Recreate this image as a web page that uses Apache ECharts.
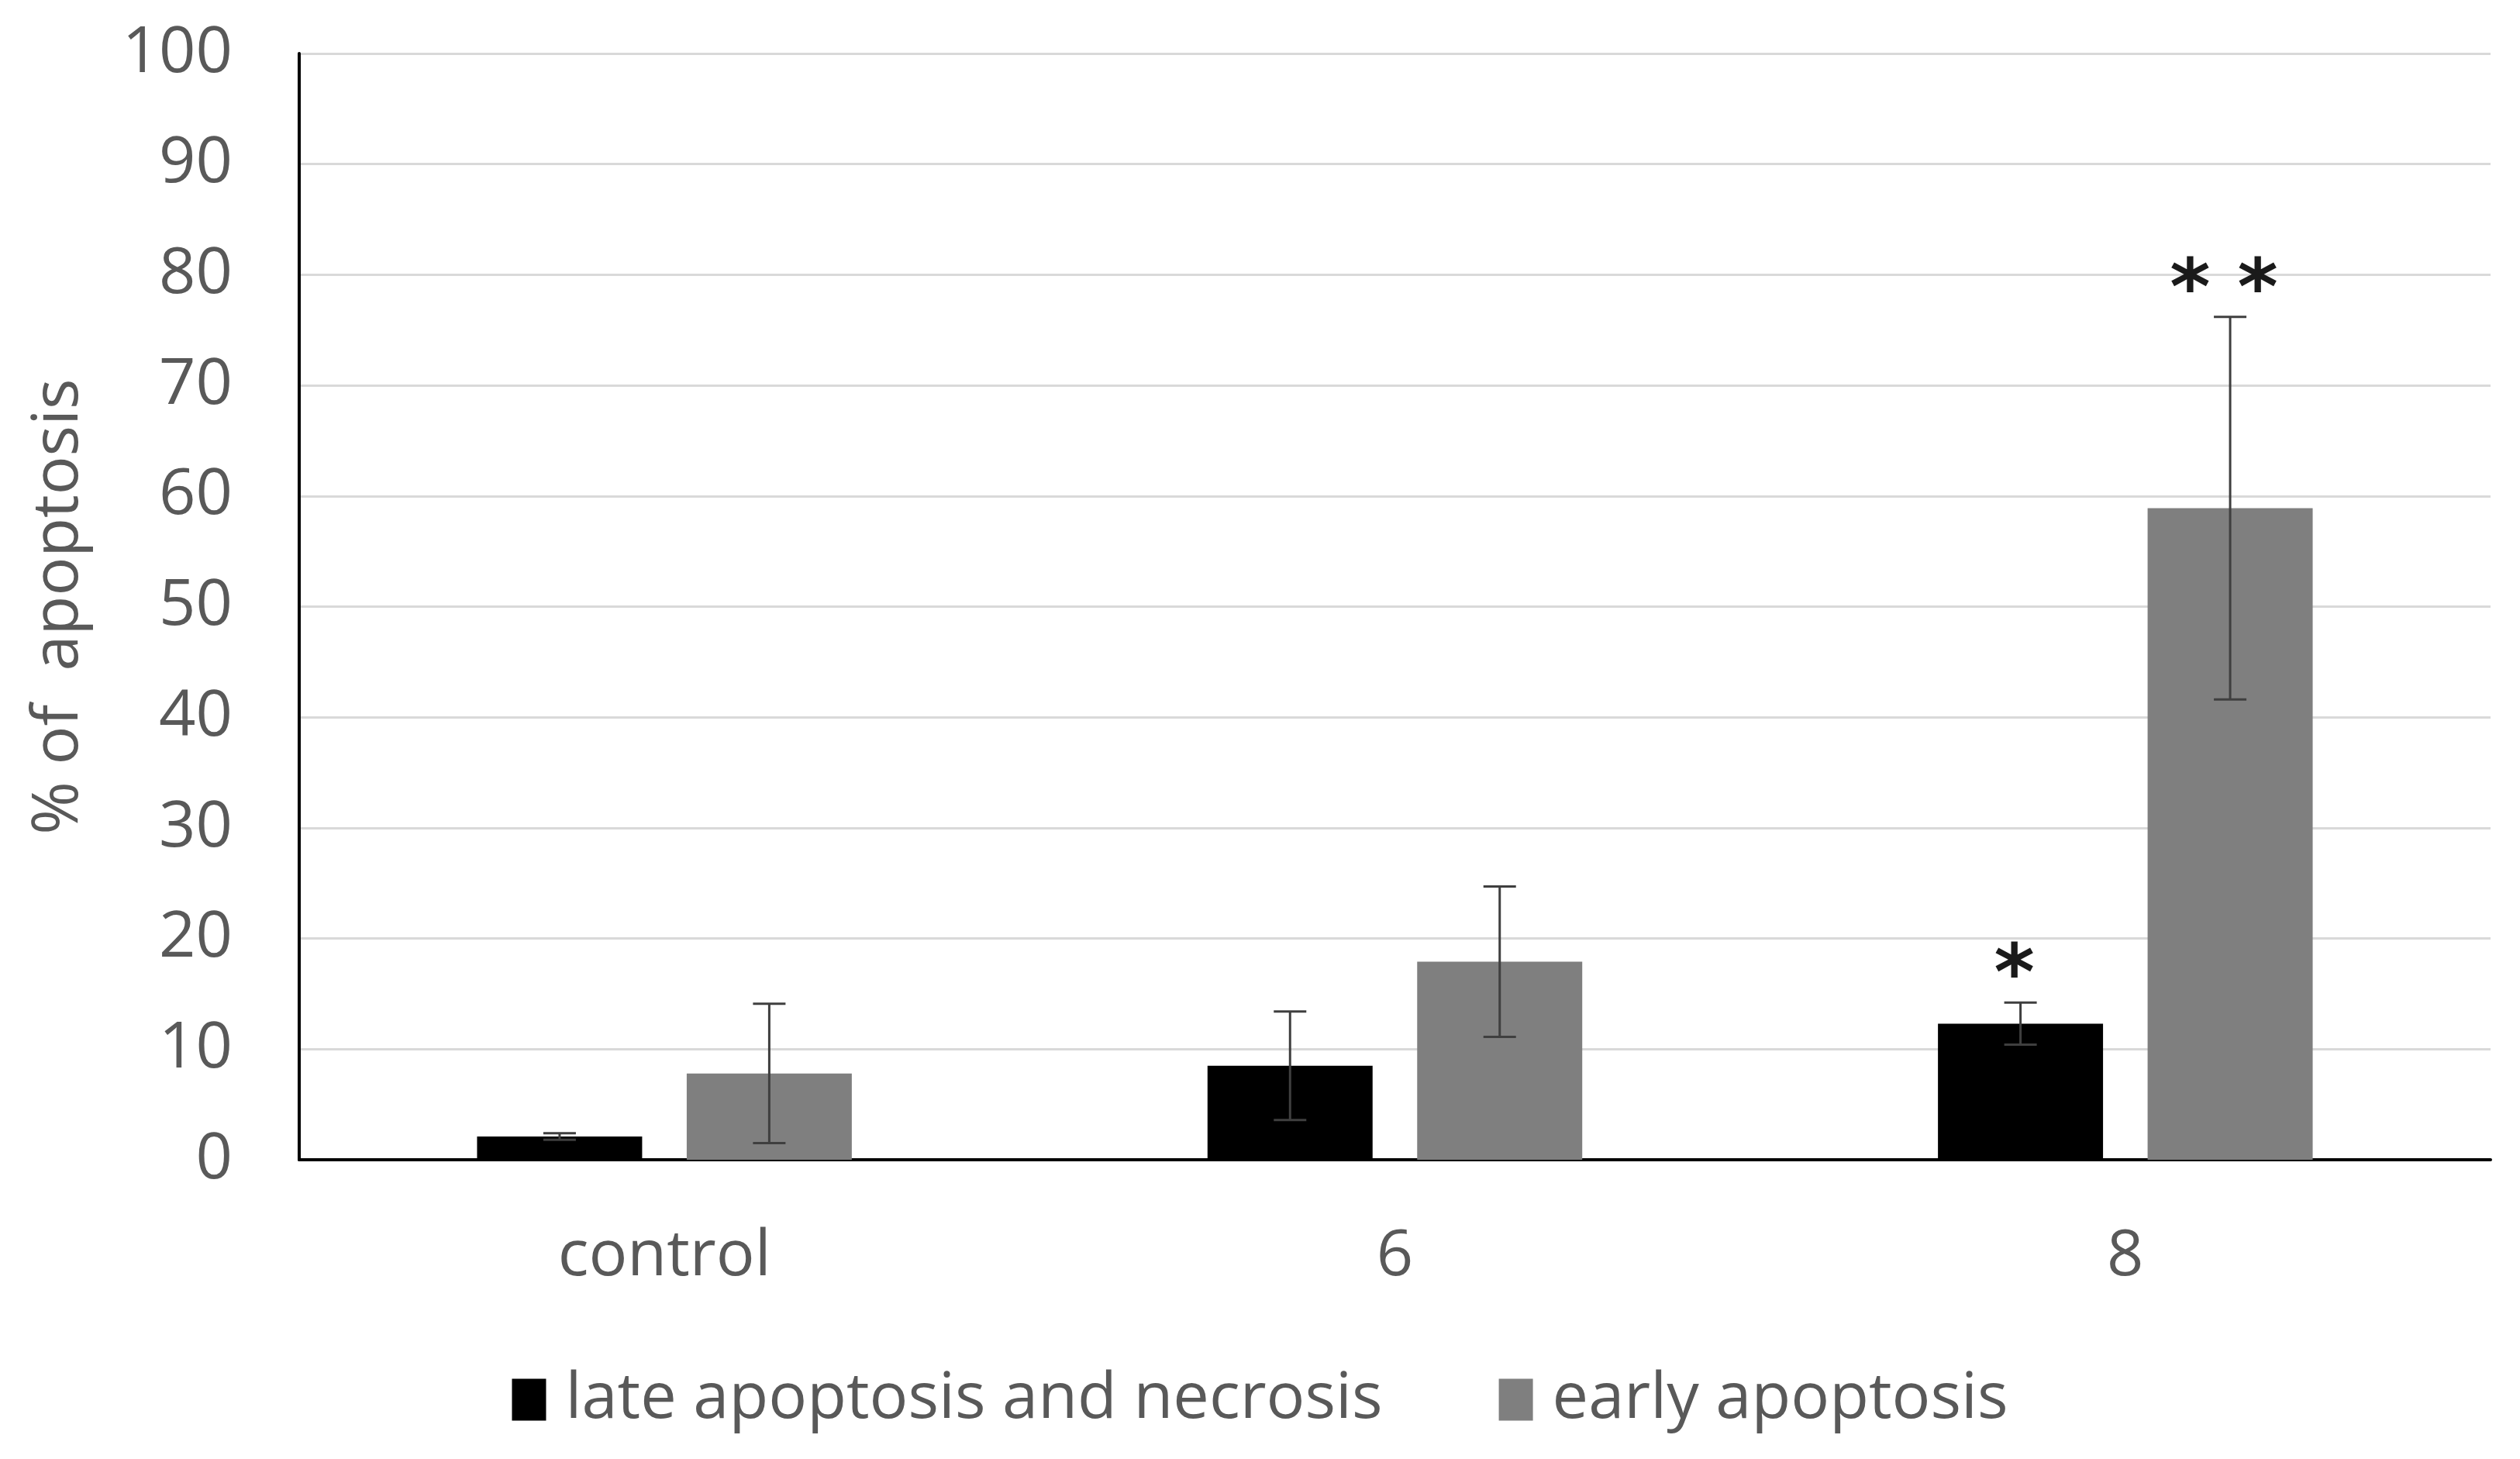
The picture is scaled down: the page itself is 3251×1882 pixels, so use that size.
<!DOCTYPE html>
<html>
<head>
<meta charset="utf-8">
<script src="https://cdn.jsdelivr.net/npm/echarts@6/dist/echarts.min.js"></script>
<style>
html,body{margin:0;padding:0;background:#fff;}
#chart{width:3251px;height:1882px;}
</style>
</head>
<body>
<div id="chart"></div>
<script>
var categories = ['control', '6', '8'];
var seriesNames = ['late apoptosis and necrosis', 'early apoptosis'];
var lateValues = [2.1, 8.5, 12.3];
var lateErrors = [0.3, 4.9, 1.9];
var earlyValues = [7.8, 17.9, 58.9];
var earlyErrors = [6.3, 6.8, 17.3];
var lateMarks = ['', '', '*'];
var earlyMarks = ['', '', '* *'];
var yTicks = [0, 10, 20, 30, 40, 50, 60, 70, 80, 90, 100];

var FONT = 'Open Sans';
var TXT = '#595959';
var FS = 83;
var BAR_W = 0.226;
var BAR_GAP = 0.27;

function offsetFor(idx, band) {
  var bw = band * BAR_W;
  var gap = bw * BAR_GAP;
  var total = 2 * bw + gap;
  return -total / 2 + bw / 2 + idx * (bw + gap);
}

function errSeries(idx, values, errors) {
  var data = values.map(function (v, i) { return [i, v, errors[i]]; });
  return {
    type: 'custom',
    z: 5,
    silent: true,
    data: data,
    renderItem: function (params, api) {
      var i = api.value(0), v = api.value(1), e = api.value(2);
      var band = api.size([1, 0])[0];
      var c = api.coord([i, v]);
      var x = c[0] + offsetFor(idx, band);
      var yTop = api.coord([i, v + e])[1];
      var yBot = api.coord([i, v - e])[1];
      var cap = 21;
      var st = { stroke: '#3f3f3f', lineWidth: 3 };
      return {
        type: 'group',
        children: [
          { type: 'line', shape: { x1: x, y1: yTop, x2: x, y2: yBot }, style: st },
          { type: 'line', shape: { x1: x - cap, y1: yTop, x2: x + cap, y2: yTop }, style: st },
          { type: 'line', shape: { x1: x - cap, y1: yBot, x2: x + cap, y2: yBot }, style: st }
        ]
      };
    }
  };
}

function markSeries(idx, values, errors, marks) {
  var data = values.map(function (v, i) { return [i, v + errors[i]]; });
  return {
    type: 'custom',
    z: 6,
    silent: true,
    data: data,
    renderItem: function (params, api) {
      var i = api.value(0), top = api.value(1);
      var txt = marks[params.dataIndex];
      if (!txt) return null;
      var band = api.size([1, 0])[0];
      var c = api.coord([i, top]);
      var x = c[0] + offsetFor(idx, band) - 8;
      return {
        type: 'text',
        style: {
          text: txt,
          x: x,
          y: c[1] - 30,
          align: 'center',
          verticalAlign: 'middle',
          font: 'bold 100px "DejaVu Sans"',
          fill: '#1a1a1a'
        }
      };
    }
  };
}

var chart = echarts.init(document.getElementById('chart'));
chart.setOption({
  backgroundColor: '#ffffff',
  animation: false,
  grid: { left: 386, right: 38, top: 69, bottom: 386, containLabel: false },
  legend: {
    data: seriesNames,
    bottom: 30,
    left: 'center',
    itemWidth: 44,
    itemHeight: 54,
    itemGap: 150,
    textStyle: { fontFamily: FONT, fontSize: FS, color: TXT, padding: [0, 0, 0, 20] },
    icon: 'rect'
  },
  xAxis: {
    type: 'category',
    data: categories,
    axisLine: { show: true, lineStyle: { color: '#000', width: 4 } },
    axisTick: { show: false },
    axisLabel: { fontFamily: FONT, fontSize: FS, color: TXT, margin: 84 },
    splitLine: { show: false }
  },
  yAxis: {
    type: 'value',
    min: yTicks[0],
    max: yTicks[yTicks.length - 1],
    interval: yTicks[1] - yTicks[0],
    name: '% of  apoptosis',
    nameLocation: 'middle',
    nameGap: 268,
    nameTextStyle: { fontFamily: FONT, fontSize: FS, color: TXT },
    axisLine: { show: true, lineStyle: { color: '#000', width: 4 } },
    axisTick: { show: false },
    axisLabel: { fontFamily: FONT, fontSize: FS, color: TXT, margin: 86 },
    splitLine: { show: true, lineStyle: { color: '#d9d9d9', width: 3 } }
  },
  series: [
    {
      name: seriesNames[0], type: 'bar', data: lateValues,
      barWidth: (BAR_W * 100) + '%', barGap: (BAR_GAP * 100) + '%',
      itemStyle: { color: '#000000' }
    },
    {
      name: seriesNames[1], type: 'bar', data: earlyValues,
      barWidth: (BAR_W * 100) + '%', barGap: (BAR_GAP * 100) + '%',
      itemStyle: { color: '#7f7f7f' }
    },
    errSeries(0, lateValues, lateErrors),
    errSeries(1, earlyValues, earlyErrors),
    markSeries(0, lateValues, lateErrors, lateMarks),
    markSeries(1, earlyValues, earlyErrors, earlyMarks)
  ]
});
</script>
</body>
</html>
